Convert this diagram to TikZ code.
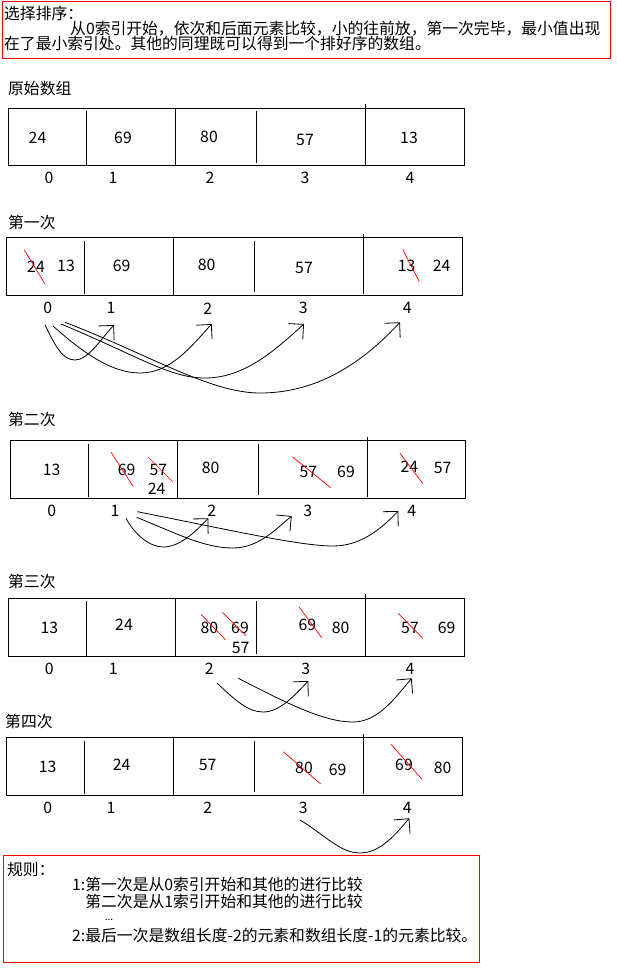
\documentclass[tikz,border=0pt]{standalone}
\usepackage{fontspec}
\newfontfamily\cjk{Noto Sans CJK SC}
\usetikzlibrary{arrows.meta}
\newcommand\sortrow[8]{%
  \draw[boxline] (#1,#2) rectangle (#3,#4);
  \draw[boxline] (#5,#2+3) -- (#5,#4-1);
  \draw[boxline] (#6,#2) -- (#6,#4);
  \draw[boxline] (#7,#2+3) -- (#7,#4-3);
  \draw[boxline] (#8,#2-4) -- (#8,#4-1);
}
\tikzset{
  txt/.style={font={\cjk\fontsize{15.8}{16}\selectfont}, inner sep=0pt},
  lab/.style={txt, anchor=west},
  boxline/.style={line width=1pt, black},
  strike/.style={red, line width=0.7pt},
  cmp/.style={line width=0.8pt, -{Straight Barb[angle=90:15pt]}},
  redbox/.style={red, line width=1pt},
}
\begin{document}
\begin{tikzpicture}[x=1pt,y=-1pt]
\useasboundingbox (0,0) rectangle (616,969);
% ---------- top description ----------
\draw[redbox] (2,1.7) rectangle (610,58.3);
\node[lab] (t1) at (4,13) {选择排序：};
\node[lab] (t2) at (70,28.7) {从0索引开始，依次和后面元素比较，小的往前放，第一次完毕，最小值出现};
\node[lab] (t3) at (4,43.5) {在了最小索引处。其他的同理既可以得到一个排好序的数组。};

% ---------- original array ----------
\node[lab] (l0) at (8,89) {原始数组};
\sortrow{8.3}{108.3}{464}{165.7}{86.7}{175.7}{256.7}{365.7}
\node[txt] (a0) at (37.5,138) {24};
\node[txt] (a1) at (123,138) {69};
\node[txt] (a2) at (209,137) {80};
\node[txt] (a3) at (305,140) {57};
\node[txt] (a4) at (409,138) {13};
\node[txt] (ai0) at (49,178) {0};
\node[txt] (ai1) at (113,178) {1};
\node[txt] (ai2) at (210,178) {2};
\node[txt] (ai3) at (305,178) {3};
\node[txt] (ai4) at (410,178) {4};

% ---------- pass 1 ----------
\node[lab] (l1) at (8,222) {第一次};
\sortrow{6.7}{237.7}{462.7}{295}{84.3}{173.3}{254.3}{363.3}
\node[txt] (b0) at (36,266.7) {24};
\node[txt] (b0n) at (66,266) {13};
\node[txt] (b1) at (121.7,266) {69};
\node[txt] (b2) at (206.7,265) {80};
\node[txt] (b3) at (304,268) {57};
\node[txt] (b4) at (406.7,266) {13};
\node[txt] (b4n) at (441.7,266) {24};
\draw[strike] (24.3,250) -- (45,284);
\draw[strike] (402.7,249.3) -- (419.3,281.7);
\node[txt] (bi0) at (47.7,308.3) {0};
\node[txt] (bi1) at (111,308.3) {1};
\node[txt] (bi2) at (207.7,308.3) {2};
\node[txt] (bi3) at (303.3,308.3) {3};
\node[txt] (bi4) at (407.3,308.3) {4};
\coordinate (bs1) at (45,325);
\coordinate (bs2) at (53,326);
\coordinate (bs3) at (61,324);
\coordinate (bs4) at (65,322.3);
\coordinate (be1) at (114,325);
\coordinate (be2) at (211.7,324);
\coordinate (be3) at (304,324);
\coordinate (be4) at (400,322.3);
\draw[cmp] (bs1) .. controls (55,345) and (62,360) .. (75,360) .. controls (88,360) and (100,340) .. (be1);
\draw[cmp] (bs2) .. controls (80,350) and (110,373) .. (140,373) .. controls (170,373) and (190,348) .. (be2);
\draw[cmp] (bs3) .. controls (140,357) and (170,378) .. (205,378) .. controls (245,378) and (275,350) .. (be3);
\draw[cmp] (bs4) .. controls (150,355) and (210,393) .. (260,393) .. controls (320,393) and (365,360) .. (be4);

% ---------- pass 2 ----------
\node[lab] (l2) at (8,419) {第二次};
\sortrow{10.7}{440.7}{465.7}{498.3}{88.3}{177.3}{258.3}{367.3}
\node[txt] (c0) at (51.7,470) {13};
\node[txt] (c1) at (126.7,470) {69};
\node[txt] (c1m) at (158.3,470) {57};
\node[txt] (c1n) at (156.7,488.3) {24};
\node[txt] (c2) at (210.7,468) {80};
\node[txt] (c3) at (308.3,472) {57};
\node[txt] (c3n) at (346,472) {69};
\node[txt] (c4) at (409.3,467) {24};
\node[txt] (c4n) at (442.7,468) {57};
\draw[strike] (111,452.3) -- (133.3,486.7);
\draw[strike] (148.3,457.3) -- (172.7,481.7);
\draw[strike] (292.3,456.7) -- (330.7,487.7);
\draw[strike] (400,453.3) -- (422.7,483.3);
\node[txt] (ci0) at (51.7,511) {0};
\node[txt] (ci1) at (115,511) {1};
\node[txt] (ci2) at (211.7,511) {2};
\node[txt] (ci3) at (307.7,511) {3};
\node[txt] (ci4) at (411.7,511) {4};
\coordinate (cs1) at (126,518.3);
\coordinate (cs2) at (136.7,517.3);
\coordinate (cs3) at (137.3,511.7);
\coordinate (ce1) at (208.3,518.3);
\coordinate (ce2) at (291.7,516);
\coordinate (ce3) at (398.3,511);
\draw[cmp] (cs1) .. controls (135,535) and (150,547) .. (163,547) .. controls (180,547) and (195,532) .. (ce1);
\draw[cmp] (cs2) .. controls (180,535) and (205,548) .. (233,548) .. controls (258,548) and (275,530) .. (ce2);
\draw[cmp] (cs3) .. controls (230,530) and (300,546) .. (333,546) .. controls (360,546) and (380,530) .. (ce3);

% ---------- pass 3 ----------
\node[lab] (l3) at (8,581.7) {第三次};
\sortrow{8.3}{598.3}{464.3}{656.7}{86.7}{175.7}{256.7}{365.7}
\node[txt] (d0) at (49.3,627.7) {13};
\node[txt] (d1) at (124,625) {24};
\node[txt] (d2) at (209.3,628) {80};
\node[txt] (d2m) at (240,628) {69};
\node[txt] (d2n) at (240.7,648.3) {57};
\node[txt] (d3) at (307.3,625) {69};
\node[txt] (d3n) at (340.7,628) {80};
\node[txt] (d4) at (410,628) {57};
\node[txt] (d4n) at (446.7,628) {69};
\draw[strike] (201,614.3) -- (225.7,640);
\draw[strike] (222.3,612.3) -- (246,635.7);
\draw[strike] (299.3,607.3) -- (321.7,637.7);
\draw[strike] (398.3,613.3) -- (422.7,638.3);
\node[txt] (di0) at (49.3,669) {0};
\node[txt] (di1) at (113.3,669) {1};
\node[txt] (di2) at (209.3,669) {2};
\node[txt] (di3) at (305.7,669) {3};
\node[txt] (di4) at (410,669) {4};
\coordinate (ds1) at (217.3,683.3);
\coordinate (ds2) at (238.3,678.3);
\coordinate (de1) at (308.3,681);
\coordinate (de2) at (411.7,678.3);
\draw[cmp] (ds1) .. controls (235,700) and (248,712) .. (263,712) .. controls (280,712) and (295,695) .. (de1);
\draw[cmp] (ds2) .. controls (290,705) and (325,722) .. (353,722) .. controls (378,722) and (395,698) .. (de2);

% ---------- pass 4 ----------
\node[lab] (l4) at (5,721) {第四次};
\sortrow{6.7}{737.7}{462.7}{795}{84.3}{173.3}{254.3}{363.3}
\node[txt] (e0) at (47.7,766.7) {13};
\node[txt] (e1) at (121.7,765) {24};
\node[txt] (e2) at (207.7,765) {57};
\node[txt] (e3) at (304,768) {80};
\node[txt] (e3n) at (337.7,770) {69};
\node[txt] (e4) at (404,765) {69};
\node[txt] (e4n) at (442.7,768) {80};
\draw[strike] (283.3,751.7) -- (320.7,784);
\draw[strike] (391,744.3) -- (421.7,779);
\node[txt] (ei0) at (47.7,807.7) {0};
\node[txt] (ei1) at (111,807.7) {1};
\node[txt] (ei2) at (207.7,807.7) {2};
\node[txt] (ei3) at (303.3,807.7) {3};
\node[txt] (ei4) at (407.3,807.7) {4};
\coordinate (es1) at (300,820);
\coordinate (ee1) at (409.3,818.3);
\draw[cmp] (es1) .. controls (325,835) and (340,853) .. (360,853) .. controls (380,853) and (395,835) .. (ee1);

% ---------- rules ----------
\draw[redbox] (3,855) rectangle (479,962.7);
\node[lab] (g0) at (7,870) {规则：};
\node[lab] (g1) at (72,884.5) {1:第一次是从0索引开始和其他的进行比较};
\node[lab] (g2) at (72,901.5) {\phantom{1:}第二次是从1索引开始和其他的进行比较};
\node[txt, font={\cjk\fontsize{10}{10}\selectfont}] (g3) at (109,920) {...};
\node[lab] (g4) at (72,935) {2:最后一次是数组长度-2的元素和数组长度-1的元素比较。};
\end{tikzpicture}
\end{document}
